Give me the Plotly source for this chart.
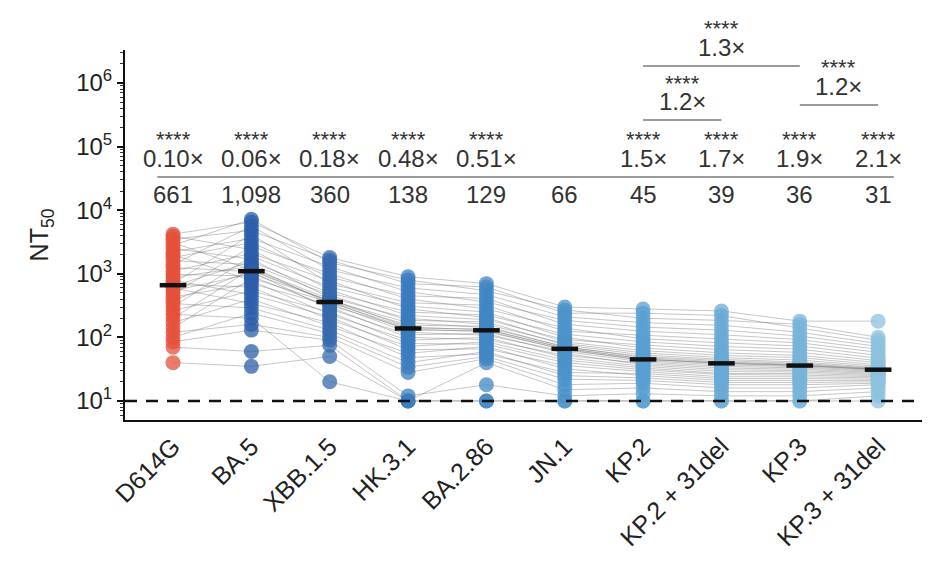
import plotly.graph_objects as go

# ---------------- data ----------------
categories = ["D614G", "BA.5", "XBB.1.5", "HK.3.1", "BA.2.86", "JN.1",
              "KP.2", "KP.2 + 31del", "KP.3", "KP.3 + 31del"]

# one value per subject (same subject order in every array)
d614g = [2800, 4200, 1400, 3500, 700, 2200, 1800, 480, 3900, 1100, 300, 2500,
         640, 1600, 880, 200, 3100, 380, 1250, 540, 980, 140, 2000, 430,
         680, 260, 790, 170, 600, 340, 100, 230, 120, 85, 70, 40]
ba5 = [7200, 6500, 5600, 4800, 4200, 3600, 3100, 2700, 2400, 2100, 1900, 1700,
       1550, 1400, 1300, 1200, 1150, 1120, 1080, 1000, 920, 850, 780, 700,
       620, 540, 470, 400, 340, 290, 240, 200, 160, 130, 60, 35]
xbb15 = [1500, 1800, 1150, 1650, 700, 1300, 880, 1000, 560, 780, 620, 420,
         500, 460, 340, 400, 370, 365, 280, 380, 300, 355, 230, 320,
         190, 250, 210, 150, 170, 130, 115, 20, 100, 90, 75, 50]
hk31 = [800, 900, 600, 700, 350, 520, 450, 400, 220, 280, 310, 200,
        250, 185, 120, 145, 155, 130, 110, 170, 100, 140, 90, 136,
        72, 80, 64, 56, 48, 40, 34, 10, 28, 12, 10, 10]
ba286 = [540, 700, 470, 620, 320, 360, 410, 280, 190, 205, 250, 160,
         225, 175, 108, 131, 150, 127, 115, 142, 92, 135, 100, 122,
         85, 78, 66, 72, 55, 60, 50, 40, 46, 18, 10, 10]
jn1 = [270, 300, 210, 240, 125, 185, 160, 140, 92, 85, 100, 80,
       112, 76, 60, 68, 70, 63, 56, 72, 52, 67, 48, 65,
       44, 40, 36, 32, 28, 25, 22, 15, 18, 12, 10, 10]
kp2 = [200, 280, 170, 240, 108, 145, 125, 95, 76, 62, 68, 57,
       85, 53, 41, 46, 50, 44.5, 37, 48, 39, 45.5, 35, 43,
       33, 31, 29, 25, 27, 23, 21, 16, 19, 13, 10, 10]
kp2_31del = [185, 260, 155, 220, 95, 130, 110, 82, 64, 52, 57, 48,
             72, 45, 35, 38.5, 43, 39.5, 31, 41, 33, 40, 29, 37,
             27, 26, 24, 21, 22.5, 19.5, 18, 14, 16, 12, 10, 10]
kp3 = [160, 180, 120, 140, 82, 105, 92, 73, 58, 48, 52, 44,
       65, 41, 33, 35.8, 39, 36.5, 30, 37.5, 31.5, 36.2, 28.5, 34.5,
       27, 25.5, 24, 21, 22.5, 19.5, 18, 14, 16, 12, 10, 10]
kp3_31del = [100, 180, 80, 90, 58, 72, 65, 52, 43, 37, 40, 35,
             47, 33.5, 29, 30.8, 32.5, 31.2, 27, 32, 28, 31.5, 26, 30,
             25, 24, 23, 21, 22, 20, 19, 16, 18, 14, 12, 10]

series = [d614g, ba5, xbb15, hk31, ba286, jn1, kp2, kp2_31del, kp3, kp3_31del]

medians = [661, 1098, 360, 138, 129, 66, 45, 39, 36, 31]
median_labels = ["661", "1,098", "360", "138", "129", "66", "45", "39", "36", "31"]
fold_labels = ["0.10×", "0.06×", "0.18×", "0.48×", "0.51×", "", "1.5×", "1.7×", "1.9×", "2.1×"]
sig_labels = ["****", "****", "****", "****", "****", "", "****", "****", "****", "****"]
# pairwise comparisons: (from index, to index, fold, significance)
pair_comparisons = [(6, 7, "1.2×", "****"), (6, 8, "1.3×", "****"), (8, 9, "1.2×", "****")]
lod = 10
y_tick_vals = [10, 100, 1000, 10000, 100000, 1000000]
y_tick_text = ["10<sup>1</sup>", "10<sup>2</sup>", "10<sup>3</sup>",
               "10<sup>4</sup>", "10<sup>5</sup>", "10<sup>6</sup>"]

# ---------------- style ----------------
colors = ["#e4503b", "#2c5ea8", "#3569ac", "#3a7cbd", "#4287c4", "#4c93cb",
          "#5a9fd1", "#69a9d6", "#78b4da", "#8ec2df"]
FONT = "Liberation Sans, Arial, Helvetica, sans-serif"
M_TOP, M_BOT, M_L, M_R = 50, 142, 125, 13
H = 562
PLOT_H = H - M_TOP - M_BOT


def py(px):
    """pixel row -> paper y"""
    return (H - M_BOT - px) / PLOT_H


pair_line_px = [120, 66, 105]
TXT = dict(size=24, color="#333", family=FONT)
STAR = dict(size=22, color="#333", family=FONT)

fig = go.Figure()

# subject connecting lines
lx, ly = [], []
n_sub = len(d614g)
for s in range(n_sub):
    for i, arr in enumerate(series):
        lx.append(i)
        ly.append(arr[s])
    lx.append(None)
    ly.append(None)
fig.add_trace(go.Scatter(x=lx, y=ly, mode="lines",
                         line=dict(color="rgba(105,105,105,0.38)", width=1),
                         hoverinfo="skip"))

# points
for i, arr in enumerate(series):
    fig.add_trace(go.Scatter(x=[i] * len(arr), y=arr, mode="markers",
                             marker=dict(color=colors[i], size=15, opacity=0.75,
                                         line=dict(width=0)),
                             name=categories[i]))

# limit of detection
x_range = [-0.613, 9.56]
fig.add_trace(go.Scatter(x=x_range, y=[lod, lod], mode="lines",
                         line=dict(color="#111", width=2.5, dash="12px,9px"),
                         hoverinfo="skip"))

# median bars
for i, m in enumerate(medians):
    fig.add_trace(go.Scatter(x=[i - 0.17, i + 0.17], y=[m, m], mode="lines",
                             line=dict(color="#111", width=4.5), hoverinfo="skip"))

ann = []
shapes = []


def add_text(x, ypx, text, font=TXT):
    ann.append(dict(x=x, y=py(ypx), xref="x", yref="paper", text=text,
                    xanchor="center", yanchor="middle", showarrow=False, font=font))


for i in range(len(categories)):
    if sig_labels[i]:
        add_text(i, 139, sig_labels[i], STAR)
    if fold_labels[i]:
        add_text(i, 158, fold_labels[i])
    add_text(i, 194, median_labels[i])

shapes.append(dict(type="line", xref="x", yref="paper", x0=-0.2, x1=9.2,
                   y0=py(177), y1=py(177), line=dict(color="#9a9a9a", width=2)))

for (a, b, fold, sig), lp in zip(pair_comparisons, pair_line_px):
    xm = (a + b) / 2
    shapes.append(dict(type="line", xref="x", yref="paper", x0=a, x1=b,
                       y0=py(lp), y1=py(lp), line=dict(color="#9a9a9a", width=2)))
    add_text(xm, lp - 19, fold)
    add_text(xm, lp - 37, sig, STAR)

fig.update_layout(
    width=935, height=H,
    margin=dict(l=M_L, r=M_R, t=M_TOP, b=M_BOT),
    plot_bgcolor="white", paper_bgcolor="white",
    showlegend=False,
    font=dict(family=FONT, color="#222"),
    annotations=ann, shapes=shapes,
    xaxis=dict(range=x_range, tickmode="array", tickvals=list(range(len(categories))),
               ticktext=categories, tickangle=-45, showline=True, linecolor="#111",
               linewidth=2, ticks="", showgrid=False, zeroline=False,
               tickfont=dict(size=25, color="#222", family=FONT)),
    yaxis=dict(type="log", range=[0.70, 6.52], tickmode="array", tickvals=y_tick_vals,
               ticktext=y_tick_text, showline=True, linecolor="#111", linewidth=2,
               ticks="outside", ticklen=6, tickwidth=2, tickcolor="#111",
               minor=dict(ticks="outside", ticklen=3, tickwidth=1, tickcolor="#333",
                          dtick="D1", showgrid=False),
               showgrid=False, zeroline=False,
               tickfont=dict(size=24, color="#222", family=FONT),
               title=dict(text="NT<sub>50</sub>", font=dict(size=25, color="#222", family=FONT),
                          standoff=20)),
)

fig.write_html("out.html")
